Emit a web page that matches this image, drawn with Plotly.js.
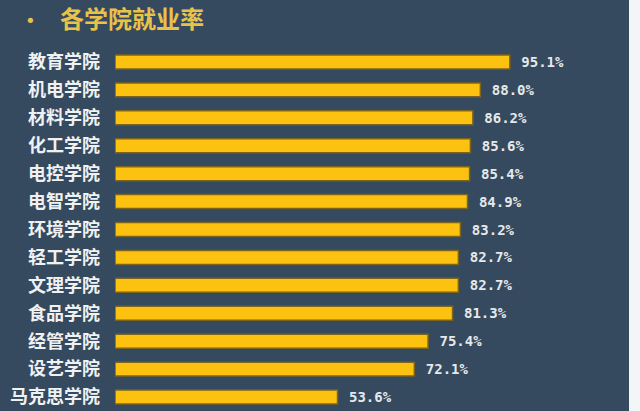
<!DOCTYPE html>
<html>
<head>
<meta charset="utf-8">
<script src="https://cdn.plot.ly/plotly-3.0.1.min.js"></script>
<style>
html,body{margin:0;padding:0;background:#f4f5f6;}
#chart{width:629px;height:411px;}
</style>
</head>
<body>
<div id="chart"></div>
<script>
const colleges = ["教育学院","机电学院","材料学院","化工学院","电控学院","电智学院","环境学院","轻工学院","文理学院","食品学院","经管学院","设艺学院","马克思学院"];
const rates = [95.1, 88.0, 86.2, 85.6, 85.4, 84.9, 83.2, 82.7, 82.7, 81.3, 75.4, 72.1, 53.6];
const rateLabels = ["95.1%","88.0%","86.2%","85.6%","85.4%","84.9%","83.2%","82.7%","82.7%","81.3%","75.4%","72.1%","53.6%"];

const trace = {
  type: "bar",
  orientation: "h",
  y: colleges,
  x: rates,
  text: rateLabels,
  texttemplate: "\u00a0%{text}",
  textposition: "outside",
  constraintext: "none",
  cliponaxis: false,
  textfont: {family: "DejaVu Sans Mono, monospace", size: 14, color: "#e6e8ea", weight: 700},
  marker: {color: "#fdc20f", line: {color: "#7a6420", width: 1.5}},
  width: 0.5,
  hoverinfo: "none"
};

const layout = {
  width: 629,
  height: 411,
  paper_bgcolor: "#354a5e",
  plot_bgcolor: "#354a5e",
  margin: {l: 115, r: 0, t: 48, b: 0},
  showlegend: false,
  title: {
    text: "<b>各学院就业率</b>",
    font: {family: "Noto Sans CJK SC", size: 24, color: "#e9c24a"},
    x: 0, xanchor: "left", xref: "container", pad: {l: 60},
    y: 1 - 20/411, yanchor: "middle", yref: "container"
  },
  xaxis: {
    range: [0, 123.8],
    showgrid: false, zeroline: false, showticklabels: false, showline: false, ticks: ""
  },
  yaxis: {
    autorange: "reversed",
    showgrid: false, zeroline: false, showline: false, ticks: "",
    ticklabelstandoff: 14,
    tickfont: {family: "Noto Sans CJK SC", size: 18, color: "#f0f1f2", weight: 700}
  },
  annotations: [{
    text: "•", xref: "paper", yref: "paper", x: -85/514, y: 1 + 28/363,
    xanchor: "center", yanchor: "middle", showarrow: false,
    font: {family: "DejaVu Sans", size: 18, color: "#e9c24a"}
  }]
};
Plotly.newPlot("chart", [trace], layout, {displayModeBar: false, staticPlot: true});
</script>
</body>
</html>
